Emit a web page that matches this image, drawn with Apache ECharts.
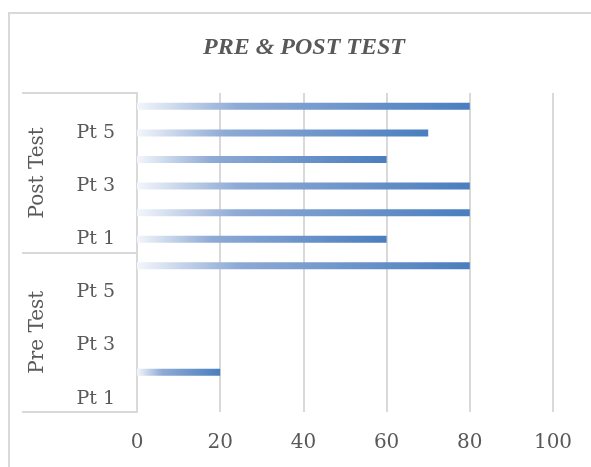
<!DOCTYPE html>
<html>
<head>
<meta charset="utf-8">
<script src="https://cdn.jsdelivr.net/npm/echarts@6/dist/echarts.min.js"></script>
<style>html,body{margin:0;padding:0;background:#fff}#c{width:591px;height:467px}</style>
</head>
<body>
<div id="c"></div>
<script>
// ---- data ----
var patients = ['Pt 1', 'Pt 2', 'Pt 3', 'Pt 4', 'Pt 5', 'Pt 6'];
var groups = ['Pre Test', 'Post Test'];
var preValues = [0, 20, 0, 0, 0, 80];
var postValues = [60, 80, 80, 60, 70, 80];
var xTicks = [0, 20, 40, 60, 80, 100];

// ---- build ----
var categories = [];
groups.forEach(function (g) {
  patients.forEach(function (p) { categories.push(g + '|' + p); });
});
var values = preValues.concat(postValues);

var chart = echarts.init(document.getElementById('c'));
var gray = '#595959';
var lineGray = '#d9d9d9';
var font = 'DejaVu Serif';

chart.setOption({
  animation: false,
  backgroundColor: '#ffffff',
  title: {
    text: 'PRE & POST TEST',
    left: 198,
    top: 31,
    textStyle: {
      fontFamily: 'Liberation Serif',
      fontStyle: 'italic',
      fontWeight: 'bold',
      fontSize: 24,
      color: gray
    }
  },
  graphic: [{
    type: 'rect',
    shape: { x: 9, y: 13, width: 600, height: 500 },
    style: { fill: 'none', stroke: lineGray, lineWidth: 2 },
    silent: true
  }],
  grid: { left: 137, right: 38, top: 93, bottom: 55, containLabel: false },
  xAxis: {
    type: 'value',
    min: xTicks[0],
    max: xTicks[xTicks.length - 1],
    interval: xTicks[1] - xTicks[0],
    axisLine: { show: false },
    axisTick: { show: false },
    splitLine: { show: true, lineStyle: { color: lineGray, width: 2 } },
    axisLabel: { color: gray, fontFamily: font, fontSize: 20, margin: 21 }
  },
  yAxis: [{
    type: 'category',
    data: categories,
    position: 'left',
    offset: 0,
    axisLine: { show: true, lineStyle: { color: lineGray, width: 2 } },
    axisTick: { show: false },
    splitLine: { show: false },
    axisLabel: {
      interval: 1,
      margin: 22,
      color: gray,
      fontFamily: font,
      fontSize: 19,
      formatter: function (v) { return v.split('|')[1]; }
    }
  }, {
    type: 'category',
    data: groups,
    position: 'left',
    offset: 0,
    axisLine: { show: true, lineStyle: { color: lineGray, width: 2 } },
    axisTick: { show: true, interval: 0, length: 115, alignWithLabel: false, lineStyle: { color: lineGray, width: 2 } },
    splitLine: { show: false },
    axisLabel: {
      interval: 0,
      rotate: 90,
      margin: 89,
      color: gray,
      fontFamily: font,
      fontSize: 20
    }
  }],
  series: [{
    type: 'bar',
    yAxisIndex: 0,
    data: values,
    barWidth: 7,
    itemStyle: {
      color: new echarts.graphic.LinearGradient(0, 0, 1, 0, [
        { offset: 0, color: '#f3f6fb' },
        { offset: 0.3, color: '#8eaad5' },
        { offset: 1, color: '#4a7ebf' }
      ])
    }
  }]
});
</script>
</body>
</html>
